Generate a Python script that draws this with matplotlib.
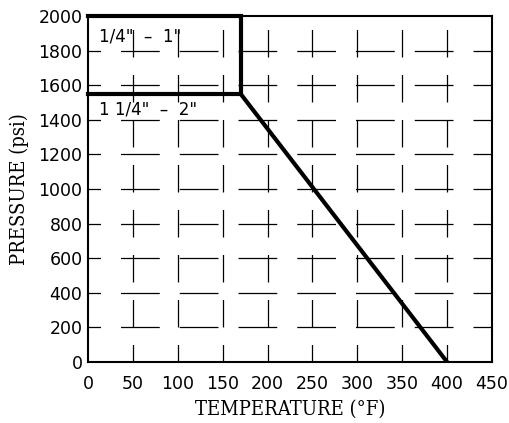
import matplotlib
matplotlib.use("Agg")
import matplotlib.pyplot as plt
from matplotlib import font_manager as fm

# Data
small_x = [0, 170, 170, 0]
small_y = [2000, 2000, 1550, 1550]
large_x = [170, 400]
large_y = [1550, 0]
x_ticks = [0, 50, 100, 150, 200, 250, 300, 350, 400, 450]
y_ticks = [0, 200, 400, 600, 800, 1000, 1200, 1400, 1600, 1800, 2000]
label_small = '1/4"  –  1"'
label_large = '1 1/4"  –  2"'

cond = [f for f in fm.fontManager.ttflist
        if "Serif" in f.name and "ondensed" in f.fname
        and f.weight in (400, "normal", "regular", "book") and f.style == "normal"]

fig = plt.figure(figsize=(5.09, 4.23), dpi=100)
ax = fig.add_axes([88/509, 1-362/423, (492-88)/509, (362-16)/423])
ax.set_xlim(0, 450)
ax.set_ylim(0, 2000)
ax.set_xticks(x_ticks)
ax.set_yticks(y_ticks)
ax.tick_params(length=0, labelsize=12.5)
ax.tick_params(axis="x", pad=9)
ax.tick_params(axis="y", pad=4)
for lab in ax.get_xticklabels() + ax.get_yticklabels():
    lab.set_fontfamily("DejaVu Sans")

for xv in x_ticks[1:-1]:
    ax.axvline(xv, color="black", lw=0.9, linestyle=(8, (22, 14)), zorder=1)
for yv in y_ticks[1:-1]:
    ax.axhline(yv, color="black", lw=0.9, linestyle=(21, (31, 16)), zorder=1)

ax.plot(small_x, small_y, color="black", lw=3, solid_joinstyle="miter", zorder=3, clip_on=False)
ax.plot(large_x, large_y, color="black", lw=3, solid_capstyle="butt", zorder=3)

ax.text(12, 1880, label_small, fontsize=12, family="DejaVu Sans", va="center", ha="left")
ax.text(12, 1460, label_large, fontsize=12, family="DejaVu Sans", va="center", ha="left")

for s in ax.spines.values():
    s.set_linewidth(1.5)

if cond:
    lab_font = dict(fontproperties=fm.FontProperties(fname=cond[0].fname, size=14.5))
else:
    lab_font = dict(family="Liberation Serif", fontsize=15)
ax.set_xlabel("TEMPERATURE (°F)", labelpad=5, **lab_font)
ax.set_ylabel("PRESSURE (psi)", labelpad=7, **lab_font)

fig.savefig("out.png", dpi=100)
